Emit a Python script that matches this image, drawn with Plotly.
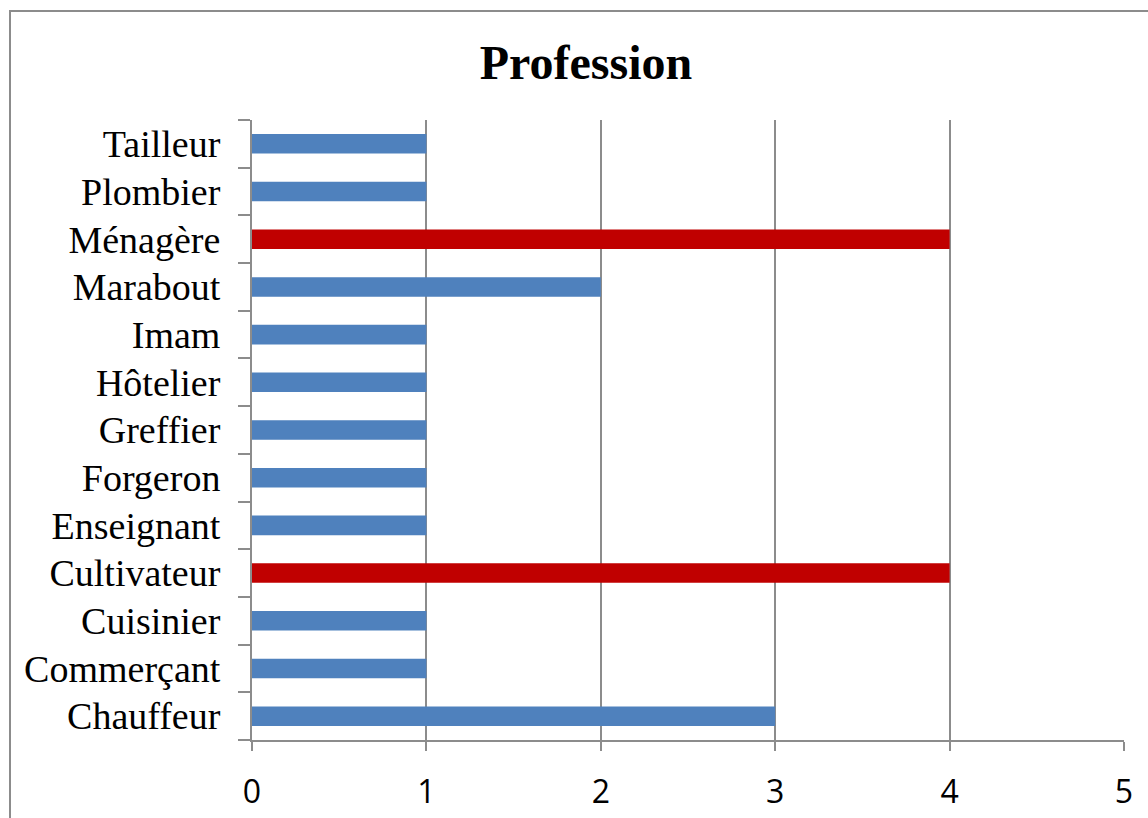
import plotly.graph_objects as go

# Profession counts (bottom to top)
professions = ["Chauffeur", "Commerçant", "Cuisinier", "Cultivateur", "Enseignant",
               "Forgeron", "Greffier", "Hôtelier", "Imam", "Marabout",
               "Ménagère", "Plombier", "Tailleur"]
counts = [3, 1, 1, 4, 1, 1, 1, 1, 1, 2, 4, 1, 1]
x_ticks = [0, 1, 2, 3, 4, 5]

BLUE = "#4F81BD"
RED = "#C00000"
GRID = "#8C8C8C"
bar_colors = [RED if c == max(counts) else BLUE for c in counts]

fig = go.Figure(go.Bar(
    x=counts, y=professions, orientation="h",
    marker=dict(color=bar_colors, line=dict(width=0)),
    width=0.41,
))

fig.update_layout(
    width=1148, height=818,
    margin=dict(l=252, r=24, t=120, b=78, autoexpand=False),
    paper_bgcolor="white", plot_bgcolor="white",
    showlegend=False,
    title=dict(text="<b>Profession</b>", x=586 / 1148, xref="container", xanchor="center",
               y=1 - 62 / 818, yref="container", yanchor="middle",
               font=dict(family="Liberation Serif", size=48, color="black")),
    xaxis=dict(range=[0, 5], tickvals=x_ticks, ticks="outside", ticklen=9, tickwidth=2,
               tickcolor=GRID, showgrid=True, gridcolor=GRID, gridwidth=2,
               showline=True, linecolor=GRID, linewidth=2, zeroline=False,
               ticklabelstandoff=14, automargin=False,
               tickfont=dict(family="Open Sans", size=32, color="black")),
    yaxis=dict(type="category", categoryorder="array", categoryarray=professions,
               ticks="outside", ticklen=12, tickwidth=2, tickcolor=GRID,
               tickson="boundaries", showline=True, linecolor=GRID, linewidth=2,
               showgrid=False, ticklabelstandoff=22, automargin=False,
               tickfont=dict(family="Liberation Serif", size=38, color="black")),
    shapes=[dict(type="rect", xref="paper", yref="paper",
                 x0=(10 - 252) / 872, x1=1.2, y0=-0.3, y1=(740 - 11) / 620,
                 line=dict(color="#8C8C8C", width=2), layer="below")],
)

fig.write_html("out.html")
